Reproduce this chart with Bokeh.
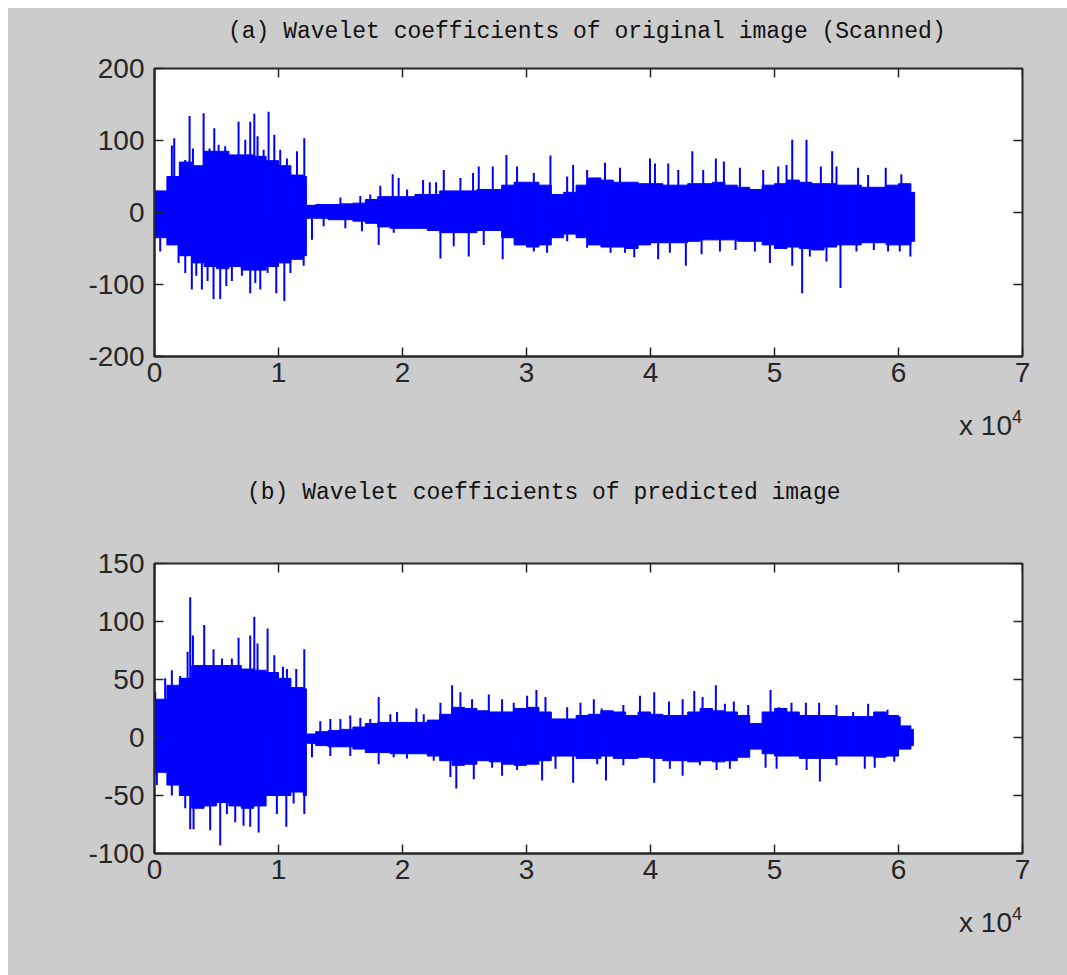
import math
from bokeh.plotting import figure
from bokeh.models import Range1d, FixedTicker, Spacer, Div
from bokeh.layouts import column, row
from bokeh.embed import file_html
from bokeh.resources import INLINE

# ---------------- data ----------------
title_a = "(a) Wavelet coefficients of original image (Scanned)"
title_b = "(b) Wavelet coefficients of predicted image"
x_tick_vals = [0, 10000, 20000, 30000, 40000, 50000, 60000, 70000]
x_tick_labels = ["0", "1", "2", "3", "4", "5", "6", "7"]
x_exponent = "4"
top_y_ticks = [-200, -100, 0, 100, 200]
top_y_labels = ["-200", "-100", "0", "100", "200"]
bot_y_ticks = [-100, -50, 0, 50, 100, 150]
bot_y_labels = ["-100", "-50", "0", "50", "100", "150"]

# dense-core envelope bins (edges) and per-bin upper / lower values
top_edges = [0, 1000, 2000, 3000, 4000, 5000, 6000, 7000, 8000, 9000, 10000, 11000, 12000, 12250,
             13000, 14000, 15000, 16000, 17000, 18000, 19000, 20000, 21000, 22000, 23000, 24000,
             25000, 26000, 27000, 28000, 29000, 30000, 31000, 32000, 33000, 34000, 35000, 36000,
             37000, 38000, 39000, 40000, 41000, 42000, 43000, 44000, 45000, 46000, 47000, 48000,
             49000, 50000, 51000, 52000, 53000, 54000, 55000, 56000, 57000, 58000, 59000, 60000,
             61000, 61300]
top_upper = [30, 50, 70, 65, 85, 85, 80, 80, 78, 72, 65, 52, 50,
             10, 11, 11, 12, 13, 18, 22, 22, 22, 25, 25, 30, 30, 30, 32, 32, 38, 42, 42, 38, 25, 28, 38, 48,
             45, 42, 42, 40, 40, 38, 38, 40, 40, 42, 38, 35, 32, 38, 40, 45, 42, 40, 40, 38, 38, 35, 35, 38, 40,
             28]
top_lower = [-35, -45, -60, -70, -75, -78, -75, -80, -80, -75, -70, -65, -60,
             -8, -8, -10, -10, -12, -15, -20, -22, -22, -22, -25, -28, -28, -28, -25, -25, -35, -45, -48, -45,
             -35, -30, -35, -45,
             -48, -48, -50, -45, -42, -42, -42, -40, -38, -38, -38, -40, -40, -45, -50, -48, -50, -52, -48, -45,
             -45, -42, -42, -45, -45,
             -40]

top_spike_x = [1400, 1590, 2480, 2830, 3100, 3960, 4440, 4820, 5170, 5700, 6780, 7320, 7720, 8050, 8310,
               8800, 9200, 9660, 10140, 10680, 11490, 12080,
               14990, 16600, 17400, 18210, 19210, 19690, 20370, 21660, 22200, 22710, 23330, 24670, 25690,
               26150, 27280, 28380, 29240, 30590, 31930, 33280, 33760, 34890,
               36330, 37540, 39960, 40360, 41430, 42240, 43370, 44250, 45270, 45920, 47210, 49090, 50300,
               50970, 51430, 52580, 53740, 54650, 55000, 56740, 57550, 58970, 60230,
               460, 1940, 2480, 3010, 3370, 3820, 4280, 4760, 5300, 5790, 6240, 7050, 7720, 8130, 8530,
               9120, 9820, 10470, 10960, 12030, 12700, 13640, 15390, 16730, 18080, 19290, 23060, 24130,
               25340, 26550, 28080, 30590, 31660, 33280, 34890,
               36780, 37940, 38690, 40620, 41560, 42850, 44120, 45600, 46860, 48420, 49630, 51430, 52230,
               52850, 54190, 55320, 56610, 58010, 59160, 60100, 60960]
top_spike_y = [93, 103, 73, 134, 89, 138, 89, 117, 94, 92, 126, 101, 126, 137, 106,
               87, 140, 108, 87, 75, 85, 103,
               21, 23, 25, 37, 53, 48, 32, 45, 42, 42, 59, 48, 55,
               64, 64, 80, 64, 55, 79, 50, 66, 59,
               69, 62, 75, 68, 68, 59, 85, 59, 75, 71, 62, 59, 64,
               66, 101, 101, 64, 85, 64, 62, 52, 62, 53,
               -54, -70, -84, -107, -88, -107, -95, -120, -120, -102, -95, -88, -112, -98, -107,
               -84, -112, -123, -84, -74, -38, -19, -22, -26, -45, -28, -64, -47,
               -61, -45, -65, -54, -56, -40, -49,
               -56, -56, -62, -65, -56, -74, -58, -54, -52, -54, -70, -74, -112,
               -61, -68, -105, -54, -52, -54, -54, -61]

bot_edges = [0, 1000, 2000, 3000, 4000, 5000, 6000, 7000, 8000, 9000, 10000, 11000, 12000, 12250,
             13000, 14000, 15000, 16000, 17000, 18000, 19000, 20000, 21000, 22000, 23000, 24000,
             25000, 26000, 27000, 28000, 29000, 30000, 31000, 32000, 33000, 34000, 35000, 36000,
             37000, 38000, 39000, 40000, 41000, 42000, 43000, 44000, 45000, 46000, 47000, 48000,
             49000, 50000, 51000, 52000, 53000, 54000, 55000, 56000, 57000, 58000, 59000, 60000,
             61000, 61200]
bot_upper = [33, 45, 51, 62, 62, 62, 62, 59, 58, 56, 51, 43, 42,
             3, 5, 6, 7, 9, 12, 13, 13, 13, 13, 15, 20, 26, 25, 23, 22, 22, 25, 26, 22, 16, 16, 19, 20,
             23, 22, 19, 22, 20, 19, 19, 22, 25, 23, 22, 19, 12, 22, 25, 22, 19, 19, 19, 18, 18, 18, 22, 19, 10,
             7]
bot_lower = [-30, -41, -50, -61, -59, -56, -59, -61, -59, -50, -50, -47, -50,
             -5, -7, -8, -8, -10, -13, -13, -14, -14, -14, -16, -20, -24, -23, -20, -21, -23, -24, -23, -20,
             -16, -16, -18, -18,
             -16, -18, -18, -17, -18, -20, -20, -21, -20, -21, -20, -17, -10, -14, -16, -16, -18, -18, -18,
             -16, -16, -16, -17, -16, -10,
             -7]

bot_spike_x = [60, 860, 1400, 2070, 2670, 2880, 3100, 4010, 4760, 5440, 6240, 6780, 7720, 8050, 8310,
               9120, 9660, 10360, 10680, 11430, 12080,
               13370, 14180, 14990, 15790, 16600, 17400, 18080, 19020, 19560, 21120, 21710, 23060, 24000,
               24670, 25610, 26960, 28030, 28970, 30050, 30800, 31530, 33280, 34350, 35430,
               36060, 37810, 39150, 40300, 41490, 42590, 43530, 44200, 45270, 46000, 46720, 47880, 49680,
               50350, 51370, 52530, 53600, 55000, 56340, 57550, 59110, 60100,
               190, 1400, 2480, 2880, 3150, 3820, 4490, 5300, 5840, 6510, 7180, 7720, 8400, 9870, 10630,
               11220, 12080,
               12700, 14180, 15790, 18080, 19290, 20360, 22520, 23860, 24340, 25750, 27230, 28030, 29240,
               31260, 32340, 33760, 35700,
               36410, 37810, 40300, 41560, 42590, 43980, 45330, 46400, 49280, 50170, 52590, 53660, 55000,
               57280, 58080, 59660]
bot_spike_y = [39, 51, 58, 53, 74, 121, 88, 97, 76, 68, 68, 86, 88, 104, 81,
               94, 71, 61, 59, 59, 76,
               14, 16, 16, 19, 17, 16, 35, 20, 22, 25, 20, 30, 45,
               39, 33, 37, 33, 30, 36, 41, 35, 26, 30, 33,
               25, 28, 36, 39, 31, 33, 40, 35, 45, 29, 31, 28, 41,
               26, 30, 30, 30, 28, 22, 29, 24, 18,
               -41, -50, -61, -79, -79, -61, -80, -93, -66, -73, -76, -77, -82, -66, -77,
               -57, -66,
               -17, -16, -16, -23, -17, -18, -20, -34, -44, -36, -26, -33, -28,
               -37, -27, -39, -23,
               -37, -24, -39, -27, -33, -24, -28, -27, -26, -27, -28, -38, -24,
               -27, -26, -21]

# ---------------- styling ----------------
GRAY = "#cccccc"
BLUE = "#0000ff"
INK = "#262626"
TICK_FONT = "Liberation Sans"
TITLE_FONT = "Liberation Mono"
TICK_SIZE = "28px"
W = 1059
LEFT_B, RIGHT_B, FRAME_W = 146, 45, 868
TICK_LEN = 9


def style_axis(ax):
    ax.axis_line_color = INK
    ax.axis_line_width = 2
    ax.major_tick_line_color = INK
    ax.major_tick_line_width = 1.5
    ax.major_tick_in = TICK_LEN
    ax.major_tick_out = 0
    ax.minor_tick_line_color = None
    ax.major_label_text_font = TICK_FONT
    ax.major_label_text_color = INK
    ax.major_label_text_font_size = TICK_SIZE
    ax.major_label_standoff = 6


def make_plot(edges, upper, lower, sx, sy, ylo, yhi, yticks, ylabels, fh, top_b, bot_b):
    x0, x1 = x_tick_vals[0], x_tick_vals[-1]
    p = figure(frame_width=FRAME_W, frame_height=fh,
               x_range=Range1d(x0, x1), y_range=Range1d(ylo, yhi),
               output_backend="svg", toolbar_location=None,
               min_border_left=LEFT_B, min_border_right=RIGHT_B,
               min_border_top=top_b, min_border_bottom=bot_b,
               background_fill_color="white", border_fill_color=GRAY)
    p.grid.visible = False
    p.outline_line_color = INK
    p.outline_line_width = 2

    p.quad(left=edges[:-1], right=edges[1:], top=upper, bottom=lower,
           fill_color=BLUE, line_color=BLUE, line_width=1)
    p.segment(x0=sx, y0=[0] * len(sx), x1=sx, y1=sy, line_color=BLUE, line_width=2)

    p.xaxis.ticker = FixedTicker(ticks=x_tick_vals)
    p.xaxis.major_label_overrides = {v: s for v, s in zip(x_tick_vals, x_tick_labels)}
    p.yaxis.ticker = FixedTicker(ticks=yticks)
    p.yaxis.major_label_overrides = {v: s for v, s in zip(yticks, ylabels)}
    for ax in p.xaxis:
        style_axis(ax)
    for ax in p.yaxis:
        style_axis(ax)
        ax.major_label_standoff = 10

    # inward ticks on the top and right edges of the box (half of each dash is clipped by the frame)
    p.scatter(x=x_tick_vals, y=[yhi] * len(x_tick_vals), marker="dash", angle=math.pi / 2,
              size=2 * TICK_LEN, line_color=INK, line_width=1.5)
    p.scatter(x=[x1] * len(yticks), y=yticks, marker="dash", angle=0,
              size=2 * TICK_LEN, line_color=INK, line_width=1.5)
    return p


def title_div(text, height, left, center_y):
    html = (f'<div style="position:relative;width:{W}px;height:{height}px;">'
            f'<span style="position:absolute;left:{left}px;top:{center_y - 14}px;line-height:28px;'
            f'white-space:pre;font-family:\'{TITLE_FONT}\';font-size:23px;color:#111111;">{text}</span></div>')
    return Div(text=html, width=W, height=height, margin=0, styles={"background-color": GRAY})


def exp_div(height, center_y):
    html = (f'<div style="position:relative;width:{W}px;height:{height}px;">'
            f'<span style="position:absolute;right:{RIGHT_B}px;top:{center_y - 14}px;line-height:28px;'
            f'white-space:pre;font-family:\'{TICK_FONT}\';font-size:{TICK_SIZE};color:{INK};">x 10'
            f'<span style="font-size:18px;position:relative;top:-12px;">{x_exponent}</span></span></div>')
    return Div(text=html, width=W, height=height, margin=0, styles={"background-color": GRAY})


p1 = make_plot(top_edges, top_upper, top_lower, top_spike_x, top_spike_y, -200, 200, top_y_ticks,
               top_y_labels, 288, 16, 50)
p2 = make_plot(bot_edges, bot_upper, bot_lower, bot_spike_x, bot_spike_y, -100, 150, bot_y_ticks,
               bot_y_labels, 290, 16, 50)

stack = column(title_div(title_a, 44, 220, 24),
               p1,
               exp_div(44, 20),
               title_div(title_b, 97, 239, 43),
               p2,
               exp_div(72, 20),
               spacing=0, styles={"background-color": GRAY})
layout = column(Spacer(height=8), row(Spacer(width=8), stack, spacing=0), spacing=0)
open("out.html", "w").write(file_html(layout, INLINE))
